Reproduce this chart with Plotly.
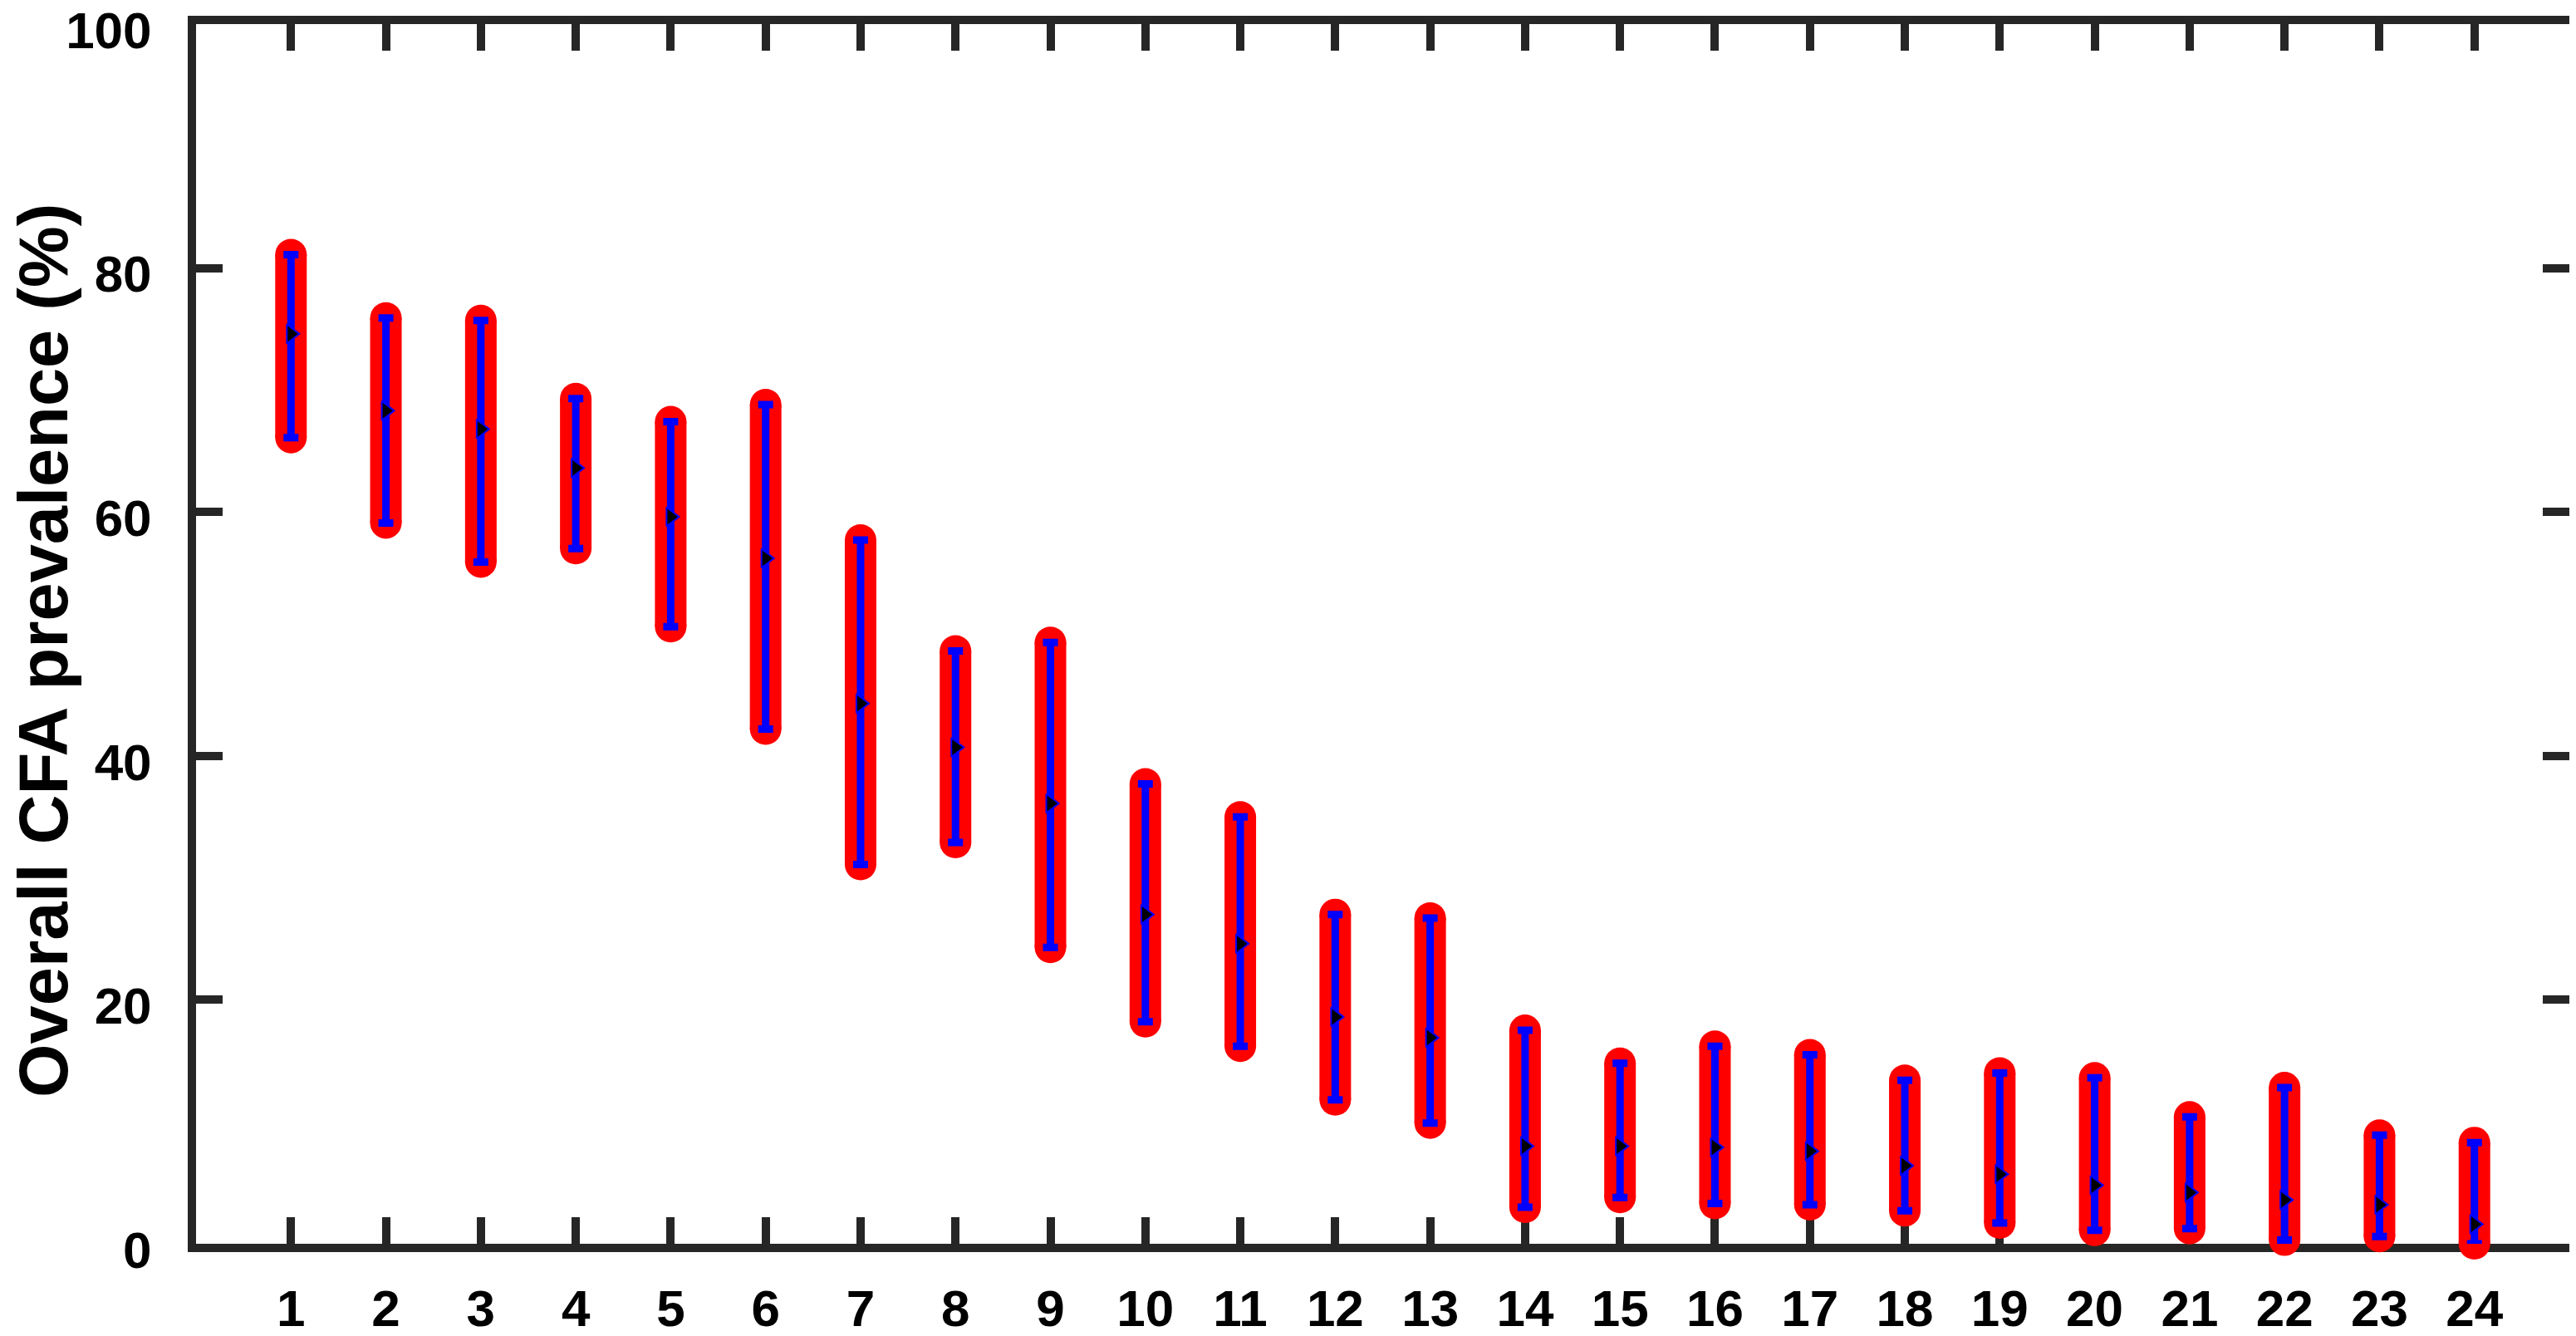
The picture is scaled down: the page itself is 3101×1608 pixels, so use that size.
import plotly.graph_objects as go

groups = list(range(1, 25))
mean_vals = [74.6, 68.3, 66.8, 63.6, 59.6, 56.2, 44.3, 40.7, 36.1, 27.0, 24.6, 18.6,
             16.9, 8.0, 8.0, 7.9, 7.6, 6.4, 5.7, 4.8, 4.2, 3.6, 3.2, 1.6]
upper_vals = [81.1, 75.9, 75.7, 69.3, 67.4, 68.8, 57.7, 48.6, 49.3, 37.7, 35.0, 27.0,
              26.7, 17.5, 14.8, 16.2, 15.5, 13.4, 14.0, 13.6, 10.4, 12.8, 8.9, 8.3]
lower_vals = [66.1, 59.1, 55.9, 57.0, 50.6, 42.2, 31.1, 32.9, 24.3, 18.2, 16.2, 11.8,
              9.9, 3.0, 3.8, 3.3, 3.2, 2.7, 1.7, 1.1, 1.25, 0.3, 0.6, 0.0]
y_ticks = [0, 20, 40, 60, 80, 100]
y_title = "Overall CFA prevalence (%)"

FONT = "Liberation Sans, Arial, Helvetica, sans-serif"
AXC = "#262626"

# red rounded bands behind each CI
bx, by = [], []
for g, lo, hi in zip(groups, lower_vals, upper_vals):
    bx += [g, g, None]
    by += [lo, hi, None]

fig = go.Figure()
fig.add_trace(go.Scatter(
    x=bx, y=by, mode="lines+markers",
    line=dict(color="#FF0000", width=38),
    marker=dict(color="#FF0000", size=38, line=dict(width=0)),
    cliponaxis=False, hoverinfo="skip", showlegend=False))

fig.add_trace(go.Scatter(
    x=groups, y=mean_vals, mode="markers",
    marker=dict(color="black", size=20, symbol="triangle-right",
                line=dict(color="#0000FF", width=2)),
    error_y=dict(type="data", symmetric=False,
                 array=[h - m for h, m in zip(upper_vals, mean_vals)],
                 arrayminus=[m - l for m, l in zip(mean_vals, lower_vals)],
                 color="#0000FF", thickness=9, width=9),
    cliponaxis=False, showlegend=False))

axis_common = dict(
    showline=True, linewidth=10, linecolor=AXC, mirror="allticks",
    ticks="inside", ticklen=32, tickwidth=10, tickcolor=AXC,
    showgrid=False, zeroline=False, layer="below traces",
    automargin=False, ticklabeloverflow="allow",
    tickfont=dict(family=FONT, size=62, color="black", weight="bold"),
)

fig.update_xaxes(range=[0, 25], tickmode="array", tickvals=groups,
                 ticktext=[str(g) for g in groups], ticklabelstandoff=15,
                 **axis_common)
fig.update_yaxes(range=[0, 100], tickmode="array", tickvals=y_ticks,
                 ticktext=[str(t) for t in y_ticks], ticklabelstandoff=31,
                 ticklabelshift=7,
                 **axis_common)

fig.add_annotation(
    text=y_title, textangle=-90, showarrow=False,
    xref="paper", yref="paper", x=-0.064, y=0.4865,
    xanchor="center", yanchor="middle",
    font=dict(family=FONT, size=83, color="black", weight="bold"))

fig.update_layout(
    template="none",
    width=3101, height=1608,
    margin=dict(l=228, r=16, t=21, b=119),
    plot_bgcolor="white", paper_bgcolor="white",
    font=dict(family=FONT),
    showlegend=False,
)

fig.write_html("out.html")
